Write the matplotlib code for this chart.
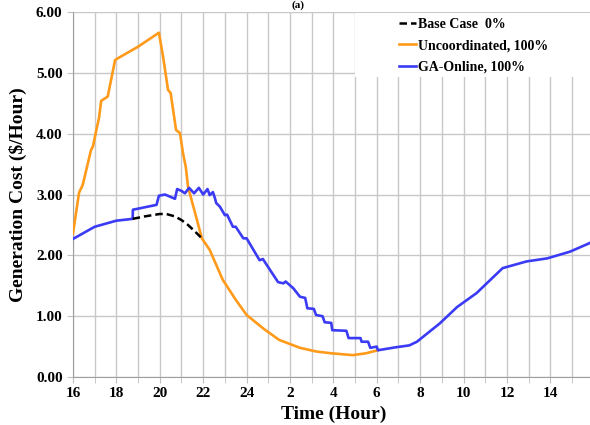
import numpy as np
import matplotlib.pyplot as plt
from matplotlib.patches import Rectangle

plt.rcParams['font.family'] = ['Liberation Serif', 'DejaVu Serif']

# hours run 16 -> 40 (16:00 day 1 to 16:00 day 2)
base_x = [18.75, 19.3, 20.0, 20.3, 20.7, 21.0, 21.3, 21.6, 21.94]
base_y = [2.60, 2.64, 2.68, 2.68, 2.64, 2.58, 2.50, 2.40, 2.28]

unc_x = [16.0, 16.28, 16.45, 16.83, 16.92, 17.1, 17.2, 17.3, 17.6, 17.94, 18.07,
         19.0, 19.96, 20.15, 20.38, 20.5, 20.75, 20.93, 21.07, 21.2, 21.3,
         21.94, 22.3, 22.9, 23.5, 24.0, 24.8, 25.5, 26.46, 27.2, 27.9, 28.9,
         29.5, 30.05]
unc_y = [2.36, 3.03, 3.16, 3.73, 3.79, 4.10, 4.26, 4.54, 4.61, 5.21, 5.24,
         5.43, 5.66, 5.27, 4.72, 4.67, 4.06, 4.01, 3.68, 3.45, 3.13,
         2.28, 2.09, 1.60, 1.27, 1.02, 0.79, 0.61, 0.48, 0.42, 0.39, 0.36,
         0.39, 0.44]

ga_x = [16.0, 17.0, 18.0, 18.75, 18.76, 19.85, 19.96, 20.24, 20.7, 20.8, 21.0,
        21.16, 21.35, 21.58, 21.8, 22.0, 22.2, 22.3, 22.45, 22.55, 22.6, 22.77,
        23.0, 23.1, 23.37, 23.5, 23.85, 24.0, 24.6, 24.75, 25.45, 25.7, 25.8,
        26.15, 26.46, 26.7, 26.8, 27.1, 27.2, 27.5, 27.6, 27.9, 27.95, 28.6,
        28.7, 29.25, 29.3, 29.6, 29.7, 30.0, 30.05, 30.9, 31.5, 31.85, 32.9,
        33.7, 34.6, 35.8, 36.9, 37.85, 38.9, 39.8, 40.0]
ga_y = [2.27, 2.47, 2.57, 2.60, 2.75, 2.83, 2.98, 3.00, 2.93, 3.09, 3.06,
        3.02, 3.11, 3.02, 3.11, 3.00, 3.09, 2.99, 3.04, 2.93, 2.86, 2.80,
        2.66, 2.67, 2.47, 2.47, 2.28, 2.28, 1.92, 1.94, 1.56, 1.54, 1.57,
        1.46, 1.32, 1.30, 1.13, 1.12, 1.02, 1.00, 0.90, 0.89, 0.77, 0.76,
        0.64, 0.64, 0.58, 0.58, 0.48, 0.50, 0.44, 0.49, 0.52, 0.58, 0.88,
        1.15, 1.38, 1.79, 1.90, 1.95, 2.06, 2.20, 2.24]

tick_pos = list(range(16, 40, 2))
tick_lab = ['16', '18', '20', '22', '24', '2', '4', '6', '8', '10', '12', '14']

fig = plt.figure(figsize=(5.9, 4.25), dpi=100)
ax = fig.add_axes([0.1237, 0.1129, 0.8827, 0.8588])

ax.plot(base_x, base_y, color='black', lw=1.8, ls=(0, (3, 1.6)), label='Base Case  0%', zorder=4)
ax.plot(unc_x, unc_y, color='#FF9A1A', lw=1.9, label='Uncoordinated, 100%', zorder=3)
ax.plot(ga_x, ga_y, color='#3B3BF5', lw=1.9, label='GA-Online, 100%', zorder=3)

ax.set_xlim(16, 40)
ax.set_ylim(0, 6)
ax.set_xticks(range(16, 41), minor=True)
ax.set_xticks(tick_pos)
ax.set_xticklabels(tick_lab)
ax.set_yticks(np.arange(0, 6.01, 1))
ax.set_yticklabels([f'{v:.2f}' for v in np.arange(0, 6.01, 1)])
ax.grid(True, which='both', axis='x', color='#c8c8c8', lw=1)
ax.grid(True, which='major', axis='y', color='#c8c8c8', lw=1)
ax.set_axisbelow(True)
ax.tick_params(axis='both', which='both', length=4, color='#c0c0c0', labelsize=11)
for lab in ax.get_xticklabels() + ax.get_yticklabels():
    lab.set_fontweight('bold')
for s in ['top', 'right']:
    ax.spines[s].set_visible(False)
for s in ['left', 'bottom']:
    ax.spines[s].set_color('#a0a0a0')

ax.set_xlabel('Time (Hour)', fontsize=14, fontweight='bold', labelpad=4)
ax.set_ylabel('Generation Cost ($/Hour)', fontsize=14, fontweight='bold', labelpad=6)

# white block behind the legend, hiding the grid there
ax.add_patch(Rectangle((0.541, 0.822), 0.459, 0.174, transform=ax.transAxes,
                       facecolor='white', edgecolor='none', zorder=1.5))
ax.legend(loc='upper left', bbox_to_anchor=(0.618, 0.995), frameon=False,
          handlelength=1.25, handletextpad=0.1, labelspacing=0.6, borderaxespad=0.0,
          borderpad=0.3, prop={'weight': 'bold', 'size': 10})

fig.text(0.505, 1.0, '(a)', ha='center', va='top', fontsize=8, fontweight='bold')

fig.savefig('out.png', dpi=100)
